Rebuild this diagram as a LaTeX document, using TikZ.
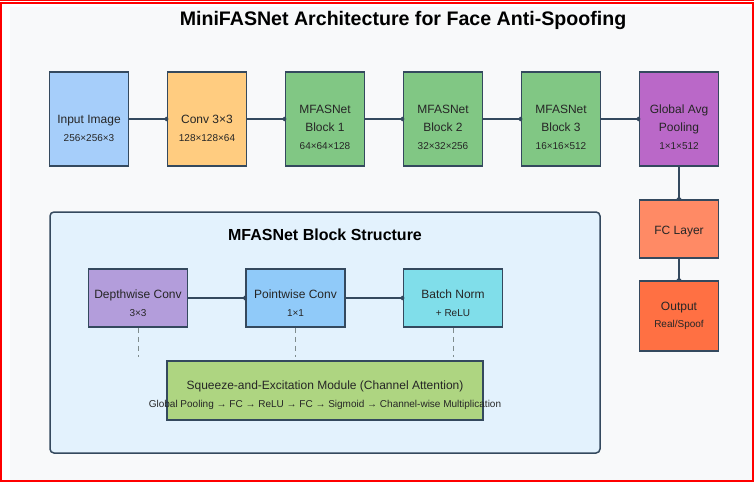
\documentclass[tikz,border=0pt]{standalone}
\usepackage{fontspec}
\setmainfont{Liberation Sans}
\usetikzlibrary{arrows.meta}

\definecolor{edge}{HTML}{34495E}
\definecolor{bggrey}{HTML}{F8F9FA}
\definecolor{frame}{HTML}{FF0000}
\definecolor{inblue}{HTML}{A6CEFA}
\definecolor{convorange}{HTML}{FFCC80}
\definecolor{blockgreen}{HTML}{81C784}
\definecolor{poolpurple}{HTML}{BA68C8}
\definecolor{fcorange}{HTML}{FF8A65}
\definecolor{outorange}{HTML}{FF7043}
\definecolor{panelblue}{HTML}{E3F2FD}
\definecolor{dwpurple}{HTML}{B39DDB}
\definecolor{pwblue}{HTML}{90CAF9}
\definecolor{bncyan}{HTML}{80DEEA}
\definecolor{segreen}{HTML}{AED581}
\definecolor{guidegrey}{HTML}{7F8C8D}

\tikzset{
  stagebox/.style={draw=edge, line width=1.5pt, minimum width=79pt, minimum height=94pt, inner sep=0pt},
  partbox/.style={stagebox, minimum width=99pt, minimum height=58pt},
  txt/.style={align=center, text=black!85, font=\fontsize{12}{18}\selectfont},
  link/.style={draw=edge, line width=1.5pt, -{Circle[length=4pt]}, shorten >=-1.5pt},
  guide/.style={draw=guidegrey, line width=1pt, dash pattern=on 5pt off 4pt, shorten >=3pt}
}
\newcommand{\dims}[1]{{\fontsize{10}{12}\selectfont #1}}

\begin{document}
\begin{tikzpicture}[x=1pt, y=-1pt]
    \useasboundingbox (0,0) rectangle (754,482);
    \fill [white] (0,0) rectangle (754,482);
    \fill [bggrey] (10,7) rectangle (752,480);
    \draw [frame, line width=2.4pt] (1.2,3.2) rectangle (752.8,480.8);
    \draw [frame, line width=1pt] (0,0.5) -- (754,0.5);

    \node (title) at (403,20.5) {\fontsize{19.6}{23}\selectfont\bfseries MiniFASNet Architecture for Face Anti-Spoofing};

    \node [stagebox, fill=inblue] (inp) at (89,119) {};
    \node [stagebox, fill=convorange] (conv) at (207,119) {};
    \node [stagebox, fill=blockgreen] (blk1) at (325,119) {};
    \node [stagebox, fill=blockgreen] (blk2) at (443,119) {};
    \node [stagebox, fill=blockgreen] (blk3) at (561,119) {};
    \node [stagebox, fill=poolpurple] (pool) at (679,119) {};
    \node [stagebox, fill=fcorange, minimum height=58pt] (fc) at (679,229) {};
    \node [stagebox, fill=outorange, minimum height=70pt] (out) at (679,316) {};

    \node [txt] (inp-t) at ([yshift=-9pt]inp.center) {Input Image\\\dims{256×256×3}};
    \node [txt] (conv-t) at ([yshift=-9pt]conv.center) {Conv 3×3\\\dims{128×128×64}};
    \node [txt] (blk1-t) at ([yshift=-8pt]blk1.center) {MFASNet\\Block 1\\\dims{64×64×128}};
    \node [txt] (blk2-t) at ([yshift=-8pt]blk2.center) {MFASNet\\Block 2\\\dims{32×32×256}};
    \node [txt] (blk3-t) at ([yshift=-8pt]blk3.center) {MFASNet\\Block 3\\\dims{16×16×512}};
    \node [txt] (pool-t) at ([yshift=-8pt]pool.center) {Global Avg\\Pooling\\\dims{1×1×512}};
    \node [txt] (fc-t) at ([yshift=-3pt]fc.center) {FC Layer};
    \node [txt] (out-t) at (out) {Output\\[-1pt]\dims{Real/Spoof}};

    \draw [link] (inp) -- (conv);
    \draw [link] (conv) -- (blk1);
    \draw [link] (blk1) -- (blk2);
    \draw [link] (blk2) -- (blk3);
    \draw [link] (blk3) -- (pool);
    \draw [link] (pool) -- (fc);
    \draw [link] (fc) -- (out);

    \node [draw=edge, line width=1.5pt, fill=panelblue, rounded corners=4pt, minimum width=550pt, minimum height=241pt] (panel) at (325,332.5) {};
    \node (panel-t) at (325,235) {\fontsize{16}{19}\selectfont\bfseries MFASNet Block Structure};

    \node [partbox, fill=dwpurple] (dw) at (138,298) {};
    \node [partbox, fill=pwblue] (pw) at (295.5,298) {};
    \node [partbox, fill=bncyan] (bn) at (453,298) {};
    \node [partbox, fill=segreen, minimum width=316pt, minimum height=59pt] (se) at (325,390.5) {};

    \node [txt] (dw-t) at ([yshift=-5pt]dw.center) {Depthwise Conv\\\dims{3×3}};
    \node [txt] (pw-t) at ([yshift=-5pt]pw.center) {Pointwise Conv\\\dims{1×1}};
    \node [txt] (bn-t) at ([yshift=-5pt]bn.center) {Batch Norm\\\dims{+ ReLU}};
    \node [txt] (se-t) at ([yshift=-5pt]se.center) {Squeeze-and-Excitation Module (Channel Attention)\\\dims{Global Pooling → FC → ReLU → FC → Sigmoid → Channel-wise Multiplication}};

    \draw [link] (dw) -- (pw);
    \draw [link] (pw) -- (bn);
    \draw [guide] (dw.south) -- (dw.south |- se.north);
    \draw [guide] (pw.south) -- (pw.south |- se.north);
    \draw [guide] (bn.south) -- (bn.south |- se.north);
\end{tikzpicture}
\end{document}
